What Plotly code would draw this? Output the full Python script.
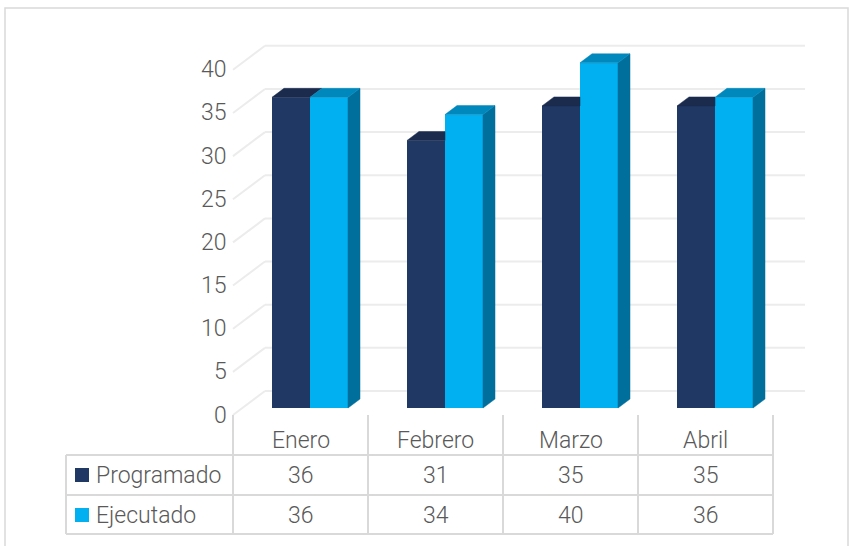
import plotly.graph_objects as go

# ---- data ----
categories = ["Enero", "Febrero", "Marzo", "Abril"]
programado = [36, 31, 35, 35]
ejecutado = [36, 34, 40, 36]
series_names = ["Programado", "Ejecutado"]
y_ticks = [0, 5, 10, 15, 20, 25, 30, 35, 40]

# ---- style / geometry ----
W, H = 850, 546
PX_PER_CAT = 135.0
X0_PX = 300.5          # pixel x of first category centre (front plane)
PX_PER_UNIT = 8.63
Y0_PX = 415.0          # pixel y of value 0 (front plane)

def px2x(px):
    return (px - X0_PX) / PX_PER_CAT

def py2paper(py):
    return 1 - py / H

x_range = [px2x(0), px2x(W)]
y_range = [(Y0_PX - H) / PX_PER_UNIT, Y0_PX / PX_PER_UNIT]

wall_dx = 32 / PX_PER_CAT
wall_dv = 24 / PX_PER_UNIT
bar_fx = 9.5 / PX_PER_CAT
bar_fv = 7 / PX_PER_UNIT
bar_w = 38 / PX_PER_CAT
depth_dx = 12 / PX_PER_CAT
depth_dv = 9 / PX_PER_UNIT

c_prog = "#203864"
c_prog_top = "#1a2b4d"
c_ejec = "#00b0f0"
c_ejec_top = "#0088bd"
c_ejec_side = "#006f9b"
grid_c = "#ececec"
line_c = "#d9d9d9"
txt_c = "#595959"
FONT = "Roboto"
FS = 23
FW = 300

fig = go.Figure()
shapes = []
annotations = []

# gridlines (side wall + back wall) as shapes below the traces
n = len(categories)
for v in y_ticks:
    shapes.append(dict(type="line", xref="x", yref="y", layer="below",
                       x0=-0.5, y0=v, x1=-0.5 + wall_dx, y1=v + wall_dv,
                       line=dict(color=grid_c, width=2)))
    shapes.append(dict(type="line", xref="x", yref="y", layer="below",
                       x0=-0.5 + wall_dx, y0=v + wall_dv, x1=n - 0.5 + wall_dx, y1=v + wall_dv,
                       line=dict(color=grid_c, width=2)))

def poly(xs, ys, color):
    fig.add_trace(go.Scatter(x=xs + [xs[0]], y=ys + [ys[0]], mode="lines", fill="toself",
                             fillcolor=color, line=dict(color=color, width=0.5),
                             hoverinfo="skip", showlegend=False))

xpos = [i + bar_fx for i in range(n)]
fig.add_trace(go.Bar(x=xpos, y=programado, base=bar_fv, width=bar_w, offset=-bar_w,
                     marker=dict(color=c_prog, line=dict(width=0)), name=series_names[0],
                     showlegend=False))
fig.add_trace(go.Bar(x=xpos, y=ejecutado, base=bar_fv, width=bar_w, offset=0,
                     marker=dict(color=c_ejec, line=dict(width=0)), name=series_names[1],
                     showlegend=False))

# 3D top / side faces
for i in range(n):
    c = xpos[i]
    # programado top (clipped where the taller ejecutado front hides it)
    xl, xr = c - bar_w, c
    t = programado[i] + bar_fv
    if ejecutado[i] > programado[i]:
        poly([xl, xr, xr, xl + depth_dx], [t, t, t + depth_dv, t + depth_dv], c_prog_top)
    else:
        poly([xl, xr, xr + depth_dx, xl + depth_dx], [t, t, t + depth_dv, t + depth_dv], c_prog_top)
    # ejecutado top and side
    xl, xr = c, c + bar_w
    t = ejecutado[i] + bar_fv
    b = bar_fv
    poly([xr, xr, xr + depth_dx, xr + depth_dx], [b, t, t + depth_dv, b + depth_dv], c_ejec_side)
    poly([xl, xr, xr + depth_dx, xl + depth_dx], [t, t, t + depth_dv, t + depth_dv], c_ejec_top)

# ---- data table ----
row_tops = [415, 455, 495, 534]
left_px = 66
def hline(py, x0, x1):
    shapes.append(dict(type="line", xref="x", yref="paper", x0=x0, x1=x1,
                       y0=py2paper(py), y1=py2paper(py), line=dict(color=line_c, width=2)))
def vline(x, py0, py1):
    shapes.append(dict(type="line", xref="x", yref="paper", x0=x, x1=x,
                       y0=py2paper(py0), y1=py2paper(py1), line=dict(color=line_c, width=2)))

for py in row_tops[1:]:
    hline(py, px2x(left_px), n - 0.5)
for k in range(n + 1):
    vline(k - 0.5, row_tops[0], row_tops[3])
vline(px2x(left_px), row_tops[1], row_tops[3])

tfont = dict(family=FONT, size=FS, color=txt_c, weight=FW)
for i, cat in enumerate(categories):
    annotations.append(dict(x=i, y=py2paper(440), xref="x", yref="paper", text=cat,
                            xanchor="center", yanchor="middle", showarrow=False, font=tfont))
    for r, vals in enumerate([programado, ejecutado]):
        annotations.append(dict(x=i, y=py2paper(row_tops[r + 1] + 20), xref="x", yref="paper",
                                text=str(vals[i]), xanchor="center", yanchor="middle",
                                showarrow=False, font=tfont))

for r, (nm, col) in enumerate(zip(series_names, [c_prog, c_ejec])):
    cy = row_tops[r + 1] + 20
    shapes.append(dict(type="rect", xref="x", yref="paper", x0=px2x(75), x1=px2x(89),
                       y0=py2paper(cy - 7), y1=py2paper(cy + 7), fillcolor=col,
                       line=dict(width=0)))
    annotations.append(dict(x=px2x(94), y=py2paper(cy), xref="x", yref="paper", text=nm,
                            xanchor="left", yanchor="middle", showarrow=False, font=tfont))

# y tick labels at front edge of side wall
for v in y_ticks:
    annotations.append(dict(x=px2x(229), y=v, xref="x", yref="y", text=str(v), xanchor="right",
                            yanchor="middle", showarrow=False, font=tfont))

# outer chart border
shapes.append(dict(type="rect", xref="paper", yref="paper", x0=5 / W, x1=848 / W,
                   y0=py2paper(560), y1=py2paper(8), line=dict(color=line_c, width=1.5)))

fig.update_layout(
    width=W, height=H, margin=dict(l=0, r=0, t=0, b=0),
    paper_bgcolor="white", plot_bgcolor="white",
    xaxis=dict(range=x_range, visible=False, fixedrange=True),
    yaxis=dict(range=y_range, visible=False, fixedrange=True),
    barmode="overlay", shapes=shapes, annotations=annotations,
    font=dict(family=FONT, color=txt_c),
)

fig.write_html("out.html", config={"displayModeBar": False},
               post_script="document.body.style.margin='0';")
